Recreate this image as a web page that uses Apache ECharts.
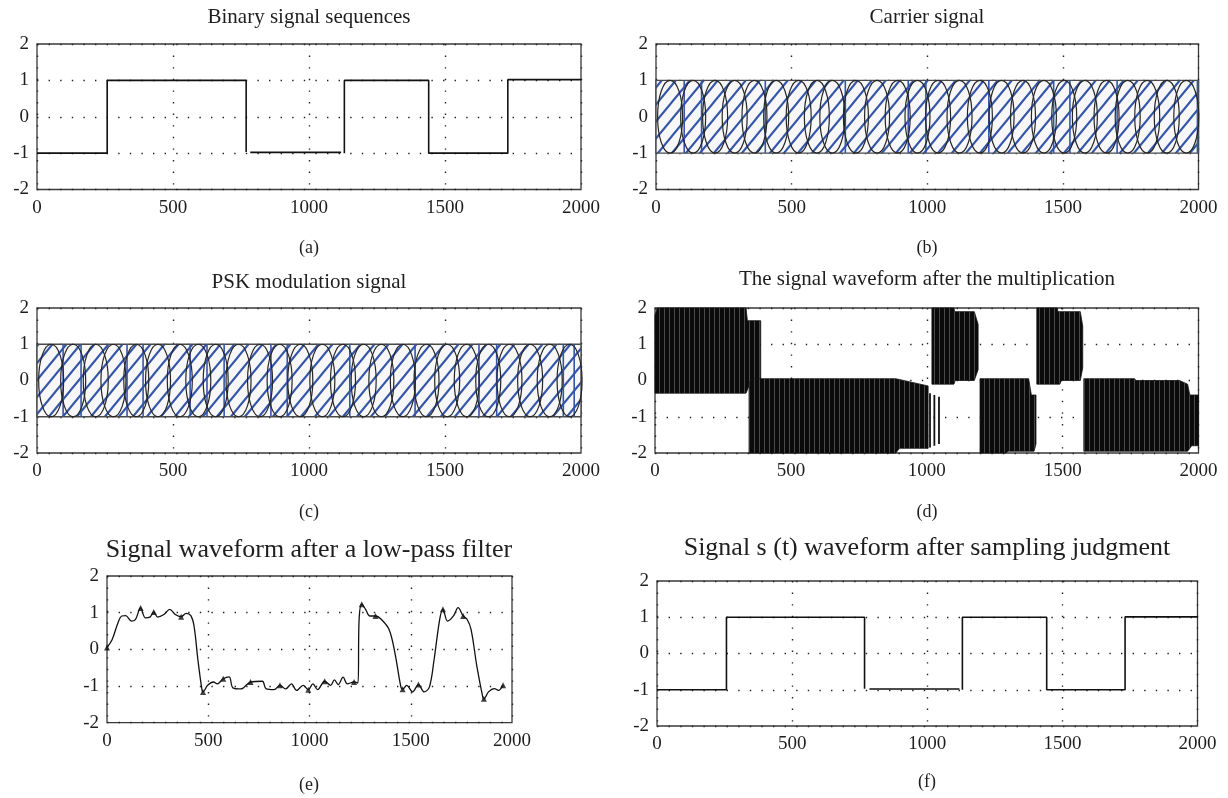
<!DOCTYPE html>
<html><head><meta charset="utf-8">
<script src="https://cdn.jsdelivr.net/npm/echarts@6/dist/echarts.min.js"></script>
<style>html,body{margin:0;padding:0;background:#fff}#c{width:1228px;height:798px}</style>
</head><body><div id="c"></div>
<script>
// ---------------- DATA ----------------
const xTicks = [0, 500, 1000, 1500, 2000];
const yTicks = [-2, -1, 0, 1, 2];

const panelTitles = ['Binary signal sequences', 'Carrier signal', 'PSK modulation signal',
  'The signal waveform after the multiplication', 'Signal waveform after a low-pass filter',
  'Signal s (t) waveform after sampling judgment'];
const panelCaptions = ['(a)', '(b)', '(c)', '(d)', '(e)', '(f)'];

// (a) binary sequence (null = pen lifted)
const binaryX = [0, 258, 258, 769, 769, null, 784, 1118, null, 1130, 1130, 1440, 1440, 1731, 1731, 2000];
const binaryY = [-1, -1, 1, 1, -0.97, null, -0.98, -0.98, null, -1, 1, 1, -1, -1, 1.02, 1.02];

// (b) carrier band, ellipse centres, blue vertical strokes
const carrierBand = [0, -1, 2000, 1];
const carrierEllipseX = [52, 137, 218, 290, 363, 443, 526, 593, 650, 737, 815, 891, 964, 1040, 1119, 1194, 1274, 1353, 1430, 1505, 1581, 1661, 1739, 1811, 1883, 1955];
const carrierBlueX = [104, 168, 403, 698, 930, 995, 1227, 1466, 1526, 1700, 1996];

// (c) PSK band, ellipse centres, blue vertical strokes
const pskBand = [0, -1, 2000, 1];
const pskEllipseX = [52, 133, 216, 281, 365, 445, 525, 593, 657, 741, 820, 892, 968, 1049, 1125, 1201, 1266, 1345, 1432, 1508, 1580, 1659, 1737, 1813, 1885, 1958];
const pskBlueX = [96, 162, 331, 390, 563, 625, 688, 860, 920, 1150, 1390, 1625, 1690, 1935, 1975];

// (d) product signal: envelope of each dense burst
const dBurst1Upper = [[0, 1.8], [8, 2], [335, 2], [340, 1.65], [389, 1.65]];
const dBurst1Lower = [[0, -0.35], [335, -0.35], [345, -0.17], [389, -0.17]];
const dBurst2Upper = [[346, -0.05], [360, 0.05], [886, 0.05], [1005, -0.15]];
const dBurst2Lower = [[346, -2], [886, -2], [900, -1.87], [1005, -1.87]];
const dBurst3Upper = [[1019, 2], [1100, 2], [1103, 1.9], [1175, 1.9], [1189, 1.55]];
const dBurst3Lower = [[1019, -0.1], [1100, -0.1], [1105, 0.0], [1175, 0.0], [1189, 0.3]];
const dBurst4Upper = [[1196, 0.05], [1375, 0.05], [1385, -0.4], [1402, -0.4]];
const dBurst4Lower = [[1196, -2], [1290, -2], [1300, -1.95], [1395, -1.95], [1402, -1.75]];
const dBurst5Upper = [[1405, 2], [1480, 2], [1483, 1.9], [1565, 1.9], [1574, 1.5]];
const dBurst5Lower = [[1405, -0.1], [1490, -0.1], [1495, 0.0], [1565, 0.0], [1574, 0.35]];
const dBurst6Upper = [[1578, 0.05], [1765, 0.05], [1770, 0], [1930, 0], [1960, -0.1], [1968, -0.4], [2000, -0.4]];
const dBurst6Lower = [[1578, -1.95], [1960, -1.95], [1975, -1.8], [2000, -1.8]];
const dTailX = [1012, 1028, 1045];
const dTailTop = [-0.35, -0.4, -0.45];
const dTailBottom = [-1.85, -1.8, -1.75];

// (e) low-pass filtered waveform
const filteredX = [0, 25, 54, 73, 92, 121, 141, 166, 189, 212, 231, 250, 281, 310, 337, 366, 391, 414, 430, 449, 468, 474, 497, 526, 545, 574, 603, 622, 661, 709, 767, 786, 825, 854, 882, 911, 936, 969, 994, 1017, 1040, 1075, 1104, 1123, 1142, 1166, 1187, 1220, 1239, 1245, 1258, 1277, 1297, 1326, 1354, 1393, 1422, 1451, 1460, 1480, 1509, 1538, 1566, 1592, 1615, 1643, 1659, 1682, 1711, 1734, 1759, 1778, 1798, 1827, 1856, 1861, 1884, 1913, 1933, 1956];
const filteredY = [0.05, 0.26, 0.72, 0.91, 0.92, 0.77, 0.82, 1.13, 0.86, 0.88, 1.02, 0.88, 0.95, 1.09, 0.95, 0.89, 0.98, 0.92, 0.63, -0.29, -1.07, -1.16, -0.98, -0.89, -0.94, -0.80, -0.75, -1.05, -1.08, -0.89, -0.87, -1.08, -1.10, -0.98, -1.08, -0.94, -1.12, -0.98, -1.10, -0.94, -1.10, -0.87, -0.98, -0.83, -0.96, -0.76, -0.94, -0.89, -0.92, 0.82, 1.23, 1.09, 0.91, 0.91, 0.82, 0.54, -0.10, -1.02, -1.09, -0.98, -1.16, -0.96, -1.16, -1.03, -0.29, 0.82, 1.09, 0.77, 0.91, 1.14, 0.91, 0.82, 0.54, -0.48, -1.31, -1.35, -1.16, -1.07, -1.12, -0.98];
const filteredMarkX = [0, 166, 231, 366, 474, 574, 709, 854, 994, 1075, 1220, 1258, 1326, 1460, 1538, 1659, 1759, 1861, 1956];
const filteredMarkY = [0.05, 1.13, 1.02, 0.89, -1.16, -0.80, -0.89, -0.98, -1.10, -0.87, -0.89, 1.23, 0.91, -1.09, -0.96, 1.09, 0.91, -1.35, -0.98];

// (f) recovered sequence
const sampledX = [0, 257, 257, 768, 768, null, 786, 1119, null, 1130, 1130, 1442, 1442, 1732, 1732, 2000];
const sampledY = [-1, -1, 1, 1, -0.97, null, -0.98, -0.98, null, -1, 1, 1, -1, -1, 1.01, 1.01];

// ---------------- STYLE / LAYOUT ----------------
const FONT = '"Liberation Serif", "Times New Roman", serif';
const grids = [
  {left: 37, top: 44, width: 544, height: 145.5},
  {left: 656, top: 44, width: 542.5, height: 145.5},
  {left: 37, top: 308, width: 544, height: 145},
  {left: 655, top: 308, width: 543.5, height: 145},
  {left: 107, top: 576, width: 405, height: 146.7},
  {left: 657, top: 581, width: 540.5, height: 145}
];
const titlePos = [[309, 17, 21], [927, 17, 21], [309, 282, 21], [927, 279, 21], [309, 550, 26], [927, 548, 26]];
const captionPos = [[309, 248], [927, 248], [309, 512], [927, 512], [309, 785], [927, 782]];

function makeHatch() {
  const W = 14, H = 17;
  const c = document.createElement('canvas');
  c.width = W; c.height = H;
  const g = c.getContext('2d');
  g.fillStyle = '#f7f7f8'; g.fillRect(0, 0, W, H);
  g.strokeStyle = '#3556a8'; g.lineWidth = 2.1;
  g.beginPath();
  g.moveTo(-W, 2 * H); g.lineTo(2 * W, -H);
  g.moveTo(-2 * W, 2 * H); g.lineTo(W, -H);
  g.moveTo(0, 2 * H); g.lineTo(3 * W, -H);
  g.stroke();
  return c;
}
const hatch = makeHatch();

function makeStripes() {
  const c = document.createElement('canvas');
  c.width = 5; c.height = 4;
  const g = c.getContext('2d');
  g.fillStyle = '#0b0b0b'; g.fillRect(0, 0, 5, 4);
  g.fillStyle = '#4a4a4a'; g.fillRect(4, 0, 1, 4);
  return c;
}
const stripes = makeStripes();

const zip = (xs, ys) => xs.map((x, i) => (x === null ? [null, null] : [x, ys[i]]));

const option = {
  animation: false,
  backgroundColor: '#ffffff',
  grid: grids.map(g => Object.assign({show: true, borderColor: '#3a3a3a', borderWidth: 1.3, backgroundColor: 'transparent', outerBoundsMode: 'none', containLabel: false}, g)),
  xAxis: grids.map((g, i) => ({
    gridIndex: i, type: 'value', min: xTicks[0], max: xTicks[xTicks.length - 1], interval: xTicks[1] - xTicks[0],
    axisLine: {show: false}, axisTick: {show: false},
    axisLabel: {fontFamily: FONT, fontSize: 19, color: '#1e1e1e', margin: 9, formatter: v => String(v)},
    splitLine: {show: true, lineStyle: {color: '#222', width: 1.4, type: [1.4, 10.2]}}
  })),
  yAxis: grids.map((g, i) => ({
    gridIndex: i, type: 'value', min: yTicks[0], max: yTicks[yTicks.length - 1], interval: yTicks[1] - yTicks[0],
    axisLine: {show: false}, axisTick: {show: false},
    axisLabel: {fontFamily: FONT, fontSize: 19, color: '#1e1e1e', margin: 8, formatter: v => String(v)},
    splitLine: {show: true, lineStyle: {color: '#222', width: 1.4, type: [1.4, 10.2]}}
  })),
  graphic: [],
  series: []
};

panelTitles.forEach((t, i) => {
  option.graphic.push({type: 'text', x: titlePos[i][0], y: titlePos[i][1], silent: true,
    style: {text: t, font: titlePos[i][2] + 'px ' + FONT, fill: '#1e1e1e', align: 'center', verticalAlign: 'middle'}});
  option.graphic.push({type: 'text', x: captionPos[i][0], y: captionPos[i][1], silent: true,
    style: {text: panelCaptions[i], font: '18px ' + FONT, fill: '#1e1e1e', align: 'center', verticalAlign: 'middle'}});
});

function stepSeries(idx, xs, ys) {
  return {type: 'line', xAxisIndex: idx, yAxisIndex: idx, data: zip(xs, ys), showSymbol: false, connectNulls: false,
    silent: true, lineStyle: {color: '#111', width: 1.6}, z: 3};
}
function bandSeries(idx, band) {
  return {type: 'custom', xAxisIndex: idx, yAxisIndex: idx, z: 1, silent: true, data: [band],
    renderItem: (p, api) => {
      const a = api.coord([api.value(0), api.value(3)]);
      const b = api.coord([api.value(2), api.value(1)]);
      return {type: 'rect', shape: {x: a[0], y: a[1], width: b[0] - a[0], height: b[1] - a[1]},
        style: {fill: {image: hatch, repeat: 'repeat'}, stroke: '#4a4a4a', lineWidth: 1.4}};
    }};
}
function blueSeries(idx, xs, band) {
  return {type: 'custom', xAxisIndex: idx, yAxisIndex: idx, z: 2, silent: true, data: xs.map(x => [x, band[1], band[3]]),
    renderItem: (p, api) => {
      const a = api.coord([api.value(0), api.value(1)]);
      const b = api.coord([api.value(0), api.value(2)]);
      return {type: 'line', shape: {x1: a[0], y1: a[1], x2: b[0], y2: b[1]}, style: {stroke: '#3556a8', lineWidth: 1.6}};
    }};
}
function ellipseSeries(idx, xs, band) {
  return {type: 'custom', xAxisIndex: idx, yAxisIndex: idx, z: 3, silent: true, data: xs.map(x => [x, (band[1] + band[3]) / 2, band[3] - band[1]]),
    renderItem: (p, api) => {
      const c = api.coord([api.value(0), api.value(1)]);
      const s = api.size([0, api.value(2)]);
      return {type: 'ellipse', shape: {cx: c[0], cy: c[1], rx: 12.5, ry: s[1] / 2},
        style: {fill: 'none', stroke: '#262626', lineWidth: 1.2}};
    }};
}

// (a)
option.series.push(stepSeries(0, binaryX, binaryY));
// (b)
option.series.push(bandSeries(1, carrierBand), blueSeries(1, carrierBlueX, carrierBand), ellipseSeries(1, carrierEllipseX, carrierBand));
// (c)
option.series.push(bandSeries(2, pskBand), blueSeries(2, pskBlueX, pskBand), ellipseSeries(2, pskEllipseX, pskBand));
// (d)
const dBursts = [[dBurst1Upper, dBurst1Lower], [dBurst2Upper, dBurst2Lower], [dBurst3Upper, dBurst3Lower],
  [dBurst4Upper, dBurst4Lower], [dBurst5Upper, dBurst5Lower], [dBurst6Upper, dBurst6Lower]];
option.series.push({type: 'custom', xAxisIndex: 3, yAxisIndex: 3, z: 3, silent: true,
  data: dBursts.map((b, i) => [b[0][0][0], 0]),
  renderItem: (p, api) => {
    const b = dBursts[p.dataIndex];
    const pts = b[0].map(q => api.coord(q)).concat(b[1].slice().reverse().map(q => api.coord(q)));
    return {type: 'polygon', shape: {points: pts}, style: {fill: {image: stripes, repeat: 'repeat'}, stroke: '#151515', lineWidth: 0.8}};
  }});
option.series.push({type: 'custom', xAxisIndex: 3, yAxisIndex: 3, z: 3, silent: true,
  data: dTailX.map((x, i) => [x, dTailTop[i], dTailBottom[i]]),
  renderItem: (p, api) => {
    const a = api.coord([api.value(0), api.value(1)]);
    const b = api.coord([api.value(0), api.value(2)]);
    return {type: 'line', shape: {x1: a[0], y1: a[1], x2: b[0], y2: b[1]}, style: {stroke: '#111', lineWidth: 1.8}};
  }});
// (e)
option.series.push({type: 'line', xAxisIndex: 4, yAxisIndex: 4, data: zip(filteredX, filteredY), smooth: 0.35,
  showSymbol: false, silent: true, lineStyle: {color: '#111', width: 1.3}, z: 3});
option.series.push({type: 'scatter', xAxisIndex: 4, yAxisIndex: 4, data: zip(filteredMarkX, filteredMarkY),
  symbol: 'triangle', symbolSize: 6, silent: true, itemStyle: {color: '#111'}, z: 4});
// (f)
option.series.push(stepSeries(5, sampledX, sampledY));

const chart = echarts.init(document.getElementById('c'), null, {renderer: 'canvas'});
chart.setOption(option);
</script></body></html>
